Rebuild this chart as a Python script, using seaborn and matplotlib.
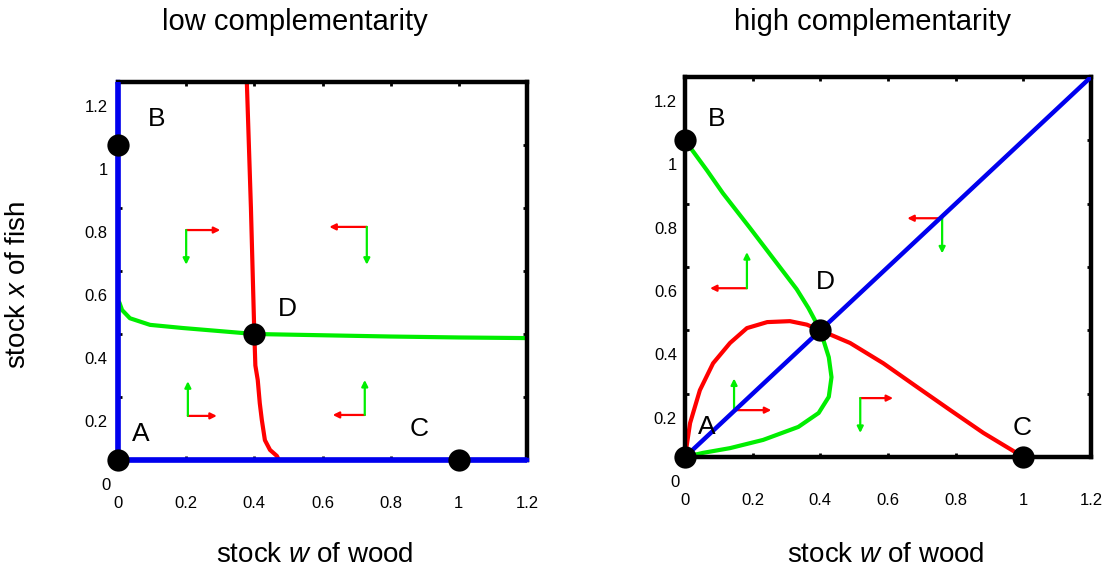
import numpy as np
import pandas as pd
import matplotlib
matplotlib.use("Agg")
import matplotlib.pyplot as plt
import seaborn as sns

sns.set_style("white")
plt.rcParams["font.family"] = ["Liberation Sans", "DejaVu Sans"]
plt.rcParams["text.color"] = "black"
plt.rcParams["xtick.color"] = "black"
plt.rcParams["ytick.color"] = "black"
plt.rcParams["mathtext.fontset"] = "custom"
plt.rcParams["mathtext.rm"] = "Liberation Sans"
plt.rcParams["mathtext.it"] = "Liberation Sans:italic"

RED = "#ff0000"
GREEN = "#00ee00"
BLUE = "#0000ee"

# ---- data: low complementarity (left) ----
low_red_w = [0.378, 0.384, 0.390, 0.395, 0.400, 0.403, 0.410, 0.416, 0.422, 0.431, 0.446, 0.466, 0.472]
low_red_x = [1.20, 1.00, 0.80, 0.60, 0.40, 0.30, 0.254, 0.18, 0.127, 0.063, 0.032, 0.013, 0.0]

low_green_w = [0.004, 0.012, 0.035, 0.094, 0.19, 0.29, 0.40, 0.60, 0.80, 1.00, 1.20]
low_green_x = [0.50, 0.476, 0.45, 0.429, 0.419, 0.41, 0.40, 0.396, 0.392, 0.389, 0.387]

low_blue_w = [[0.0, 0.0], [0.0, 1.2]]
low_blue_x = [[0.0, 1.2], [0.0, 0.0]]

low_pts = pd.DataFrame({"w": [0.0, 0.0, 1.0, 0.4], "x": [0.0, 1.0, 0.0, 0.4],
                        "name": ["A", "B", "C", "D"]})
low_lab_w = [0.067, 0.114, 0.883, 0.496]
low_lab_x = [0.083, 1.083, 0.10, 0.479]

# arrows: origin, signed length of red (w) and green (x) arrows
low_arr_w = [0.20, 0.73, 0.205, 0.724]
low_arr_x = [0.73, 0.74, 0.14, 0.143]
low_arr_dw = [0.10, -0.11, 0.085, -0.094]
low_arr_dx = [-0.11, -0.12, 0.11, 0.111]

# ---- data: high complementarity (right) ----
high_red_w = [0.0, 0.015, 0.044, 0.083, 0.133, 0.183, 0.243, 0.31, 0.36, 0.40,
              0.488, 0.586, 0.686, 0.784, 0.882, 1.0]
high_red_x = [0.0, 0.107, 0.211, 0.296, 0.36, 0.407, 0.426, 0.429, 0.418, 0.40,
              0.36, 0.296, 0.221, 0.148, 0.076, 0.0]

high_green_w = [0.0, 0.065, 0.112, 0.19, 0.28, 0.33, 0.365, 0.40, 0.425, 0.433,
                0.425, 0.395, 0.335, 0.231, 0.133, 0.053, 0.0]
high_green_x = [1.0, 0.905, 0.833, 0.726, 0.60, 0.53, 0.47, 0.40, 0.315, 0.252,
                0.19, 0.139, 0.095, 0.054, 0.028, 0.013, 0.0]

high_blue_w = [0.0, 1.2]
high_blue_x = [0.0, 1.2]

high_pts = pd.DataFrame({"w": [0.0, 0.0, 1.0, 0.4], "x": [0.0, 1.0, 0.0, 0.4],
                         "name": ["A", "B", "C", "D"]})
high_lab_w = [0.065, 0.092, 0.997, 0.414]
high_lab_x = [0.095, 1.066, 0.092, 0.552]

high_arr_w = [0.183, 0.76, 0.145, 0.518]
high_arr_x = [0.533, 0.754, 0.148, 0.186]
high_arr_dw = [-0.109, -0.103, 0.11, 0.097]
high_arr_dx = [0.114, -0.111, 0.10, -0.11]

tick_vals = [0, 0.2, 0.4, 0.6, 0.8, 1, 1.2]
tick_text = ["0", "0.2", "0.4", "0.6", "0.8", "1", "1.2"]
YLABEL_SHIFT = 0.08  # y labels sit a bit below their tick in the original

fig = plt.figure(figsize=(11.07, 5.71), dpi=100)
W, H = 1107, 571
ax1 = fig.add_axes([118 / W, 1 - 460 / H, (527 - 118) / W, (460 - 82) / H])
ax2 = fig.add_axes([685 / W, 1 - 457 / H, (1091 - 685) / W, (457 - 77) / H])


def style_axes(ax, ylab_off):
    ax.set_xlim(0, 1.2)
    ax.set_ylim(0, 1.2)
    for s in ax.spines.values():
        s.set_linewidth(3.2)
        s.set_color("black")
        s.set_visible(True)
    ax.set_xticks(tick_vals)
    ax.set_xticklabels(tick_text, fontsize=12)
    ax.set_yticks([0.2, 0.4, 0.6, 0.8, 1.0])
    ax.set_yticklabels([])
    ax.tick_params(axis="both", direction="in", length=3, width=2,
                   top=True, right=True, left=True, bottom=True, color="black")
    ax.tick_params(axis="x", pad=26)
    tr = ax.get_yaxis_transform()
    for v, t in zip(tick_vals, tick_text):
        if v == 0:
            ax.text(ylab_off - 0.005, v - YLABEL_SHIFT, t, transform=tr, ha="center",
                    va="center", fontsize=12, clip_on=False)
        else:
            ax.text(ylab_off, v - YLABEL_SHIFT, t, transform=tr, ha="right",
                    va="center", fontsize=12, clip_on=False)


def draw_arrows(ax, ow, ox, dw, dx):
    for w0, x0, a, b in zip(ow, ox, dw, dx):
        ax.annotate("", xy=(w0 + a, x0), xytext=(w0, x0),
                    arrowprops=dict(arrowstyle="-|>", color=RED, lw=1.6,
                                    mutation_scale=9, shrinkA=0, shrinkB=0))
        ax.annotate("", xy=(w0, x0 + b), xytext=(w0, x0),
                    arrowprops=dict(arrowstyle="-|>", color=GREEN, lw=1.6,
                                    mutation_scale=9, shrinkA=0, shrinkB=0))


def draw_points(ax, pts, lw, lx):
    sns.scatterplot(data=pts, x="w", y="x", ax=ax, color="black", s=220,
                    edgecolor="black", zorder=6, clip_on=False, legend=False)
    for name, a, b in zip(pts["name"], lw, lx):
        ax.text(a, b, name, fontsize=19, ha="center", va="center", zorder=7)


# left panel
style_axes(ax1, -0.025)
ax1.spines["left"].set_color(BLUE)
ax1.spines["bottom"].set_color(BLUE)
sns.lineplot(x=low_red_w, y=low_red_x, ax=ax1, sort=False, estimator=None,
             color=RED, lw=3)
sns.lineplot(x=low_green_w, y=low_green_x, ax=ax1, sort=False, estimator=None,
             color=GREEN, lw=3)
for bw, bx in zip(low_blue_w, low_blue_x):
    ax1.plot(bw, bx, color=BLUE, lw=4, clip_on=False, zorder=4, solid_capstyle="butt")
draw_arrows(ax1, low_arr_w, low_arr_x, low_arr_dw, low_arr_dx)
draw_points(ax1, low_pts, low_lab_w, low_lab_x)

# right panel
style_axes(ax2, -0.02)
sns.lineplot(x=high_red_w, y=high_red_x, ax=ax2, sort=False, estimator=None,
             color=RED, lw=3)
sns.lineplot(x=high_green_w, y=high_green_x, ax=ax2, sort=False, estimator=None,
             color=GREEN, lw=3)
ax2.plot(high_blue_w, high_blue_x, color=BLUE, lw=3.2, zorder=4)
draw_arrows(ax2, high_arr_w, high_arr_x, high_arr_dw, high_arr_dx)
draw_points(ax2, high_pts, high_lab_w, high_lab_x)

for ax in (ax1, ax2):
    ax.set_xlabel("")
    ax.set_ylabel("")

fig.text(295 / W, 1 - 22 / H, "low complementarity", ha="center", va="center", fontsize=21)
fig.text(872 / W, 1 - 22 / H, "high complementarity", ha="center", va="center", fontsize=21)
fig.text(315 / W, 1 - 555 / H, "stock $\\it{w}$ of wood", ha="center", va="center", fontsize=20)
fig.text(886 / W, 1 - 555 / H, "stock $\\it{w}$ of wood", ha="center", va="center", fontsize=20)
fig.text(18 / W, 1 - 285 / H, "stock $\\it{x}$ of fish", ha="center", va="center",
         fontsize=20, rotation=90)

fig.savefig("out.png", dpi=100)
